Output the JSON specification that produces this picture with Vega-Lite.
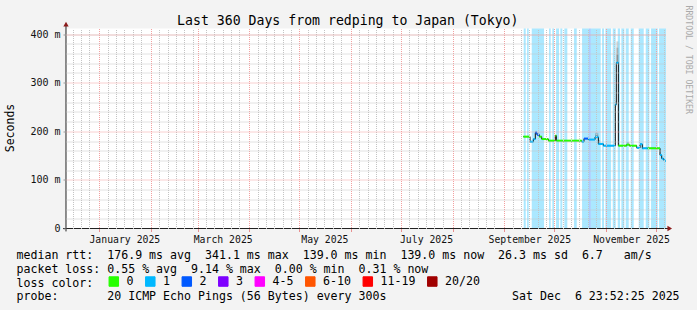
{
  "$schema": "https://vega.github.io/schema/vega-lite/v6.json",
  "width": 600,
  "height": 200,
  "autosize": {"type": "none"},
  "padding": {"left": 66, "top": 28.5, "right": 31, "bottom": 81.5},
  "background": "#f3f3f3",
  "config": {
    "view": {"stroke": null, "fill": "white"},
    "font": "DejaVu Sans Mono",
    "axis": {"labelFont": "DejaVu Sans Mono", "titleFont": "DejaVu Sans Mono", "titleFontWeight": "normal", "labelFontWeight": "normal"},
    "legend": {"labelFont": "DejaVu Sans Mono"}
  },
  "datasets": {
    "bands": [
      {"start": "2025-09-12T15:00", "end": "2025-09-13T20:00", "loss": "1"},
      {"start": "2025-09-14T15:00", "end": "2025-09-15T15:00", "loss": "1"},
      {"start": "2025-09-17T10:30", "end": "2025-09-24T19:40", "loss": "1"},
      {"start": "2025-09-27T19:40", "end": "2025-09-28T20:00", "loss": "1"},
      {"start": "2025-09-29T19:00", "end": "2025-09-30T19:40", "loss": "1"},
      {"start": "2025-10-02T00:30", "end": "2025-10-03T19:40", "loss": "1"},
      {"start": "2025-10-04T14:30", "end": "2025-10-05T19:00", "loss": "1"},
      {"start": "2025-10-07T00:00", "end": "2025-10-08T19:00", "loss": "1"},
      {"start": "2025-10-12T19:40", "end": "2025-10-14T10:30", "loss": "1"},
      {"start": "2025-10-17T15:00", "end": "2025-10-21T20:00", "loss": "1"},
      {"start": "2025-10-21T20:00", "end": "2025-10-22T20:00", "loss": "2"},
      {"start": "2025-10-22T20:00", "end": "2025-10-28T20:00", "loss": "1"},
      {"start": "2025-10-29T15:00", "end": "2025-10-30T19:40", "loss": "1"},
      {"start": "2025-10-31T14:30", "end": "2025-11-04T00:30", "loss": "1"},
      {"start": "2025-11-05T01:00", "end": "2025-11-06T20:00", "loss": "1"},
      {"start": "2025-11-08T01:00", "end": "2025-11-09T10:00", "loss": "1"},
      {"start": "2025-11-10T05:00", "end": "2025-11-12T00:00", "loss": "1"},
      {"start": "2025-11-12T20:00", "end": "2025-11-14T15:00", "loss": "1"},
      {"start": "2025-11-15T20:00", "end": "2025-11-17T15:00", "loss": "1"},
      {"start": "2025-11-20T15:00", "end": "2025-11-23T15:00", "loss": "1"},
      {"start": "2025-11-24T20:00", "end": "2025-11-27T00:00", "loss": "1"},
      {"start": "2025-11-28T00:30", "end": "2025-12-02T01:00", "loss": "1"},
      {"start": "2025-12-02T20:00", "end": "2025-12-06T23:52", "loss": "1"}
    ],
    "smoke": [
      {"start": "2025-09-19T14:00", "end": "2025-09-20T14:00", "lo": 193, "hi": 201},
      {"start": "2025-10-01T14:00", "end": "2025-10-02T05:00", "lo": 185, "hi": 193},
      {"start": "2025-10-25T10:00", "end": "2025-10-27T10:00", "lo": 186, "hi": 197},
      {"start": "2025-10-25T10:00", "end": "2025-10-27T10:00", "lo": 187, "hi": 193},
      {"start": "2025-10-27T10:00", "end": "2025-10-28T12:00", "lo": 174, "hi": 182},
      {"start": "2025-11-06T14:00", "end": "2025-11-07T05:00", "lo": 250, "hi": 262},
      {"start": "2025-11-07T05:00", "end": "2025-11-08T10:00", "lo": 341, "hi": 385},
      {"start": "2025-11-07T05:00", "end": "2025-11-08T10:00", "lo": 341, "hi": 372},
      {"start": "2025-11-07T05:00", "end": "2025-11-08T10:00", "lo": 341, "hi": 358},
      {"start": "2025-11-13T10:00", "end": "2025-11-15T00:00", "lo": 172.6, "hi": 178}
    ],
    "median": [
      {"t": "2025-09-12T10:00", "rtt": 189},
      {"t": "2025-09-16T10:00", "rtt": 178.6},
      {"t": "2025-09-18T10:00", "rtt": 184},
      {"t": "2025-09-19T14:00", "rtt": 197},
      {"t": "2025-09-20T14:00", "rtt": 193},
      {"t": "2025-09-22T00:00", "rtt": 189},
      {"t": "2025-09-23T10:00", "rtt": 184},
      {"t": "2025-09-27T10:00", "rtt": 180.7},
      {"t": "2025-10-01T14:00", "rtt": 191},
      {"t": "2025-10-02T05:00", "rtt": 180.7},
      {"t": "2025-10-17T10:00", "rtt": 178.6},
      {"t": "2025-10-18T19:00", "rtt": 185},
      {"t": "2025-10-21T10:00", "rtt": 183},
      {"t": "2025-10-25T10:00", "rtt": 188},
      {"t": "2025-10-27T10:00", "rtt": 174},
      {"t": "2025-10-30T10:00", "rtt": 170.4},
      {"t": "2025-11-06T14:00", "rtt": 255},
      {"t": "2025-11-07T05:00", "rtt": 341},
      {"t": "2025-11-08T10:00", "rtt": 170.4},
      {"t": "2025-11-13T10:00", "rtt": 172.6},
      {"t": "2025-11-15T00:00", "rtt": 170.4},
      {"t": "2025-11-19T10:00", "rtt": 166},
      {"t": "2025-11-21T10:00", "rtt": 173.4},
      {"t": "2025-11-22T19:00", "rtt": 165},
      {"t": "2025-12-03T10:00", "rtt": 151},
      {"t": "2025-12-04T10:00", "rtt": 144},
      {"t": "2025-12-05T10:00", "rtt": 141},
      {"t": "2025-12-06T10:00", "rtt": 139},
      {"t": "2025-12-06T23:50", "rtt": 139}
    ],
    "segments": [
      {"start": "2025-09-12T10:00", "end": "2025-09-16T10:00", "rtt": 189, "loss": "0"},
      {"start": "2025-09-16T10:00", "end": "2025-09-18T10:00", "rtt": 178.6, "loss": "1"},
      {"start": "2025-09-18T10:00", "end": "2025-09-19T14:00", "rtt": 184, "loss": "1"},
      {"start": "2025-09-19T14:00", "end": "2025-09-20T14:00", "rtt": 197, "loss": "2"},
      {"start": "2025-09-20T14:00", "end": "2025-09-22T00:00", "rtt": 193, "loss": "2"},
      {"start": "2025-09-22T00:00", "end": "2025-09-23T10:00", "rtt": 189, "loss": "0"},
      {"start": "2025-09-23T10:00", "end": "2025-09-27T10:00", "rtt": 184, "loss": "0"},
      {"start": "2025-09-27T10:00", "end": "2025-10-01T14:00", "rtt": 180.7, "loss": "0"},
      {"start": "2025-10-01T14:00", "end": "2025-10-02T05:00", "rtt": 191, "loss": "0"},
      {"start": "2025-10-02T05:00", "end": "2025-10-17T10:00", "rtt": 180.7, "loss": "0"},
      {"start": "2025-10-17T10:00", "end": "2025-10-18T19:00", "rtt": 178.6, "loss": "1"},
      {"start": "2025-10-18T19:00", "end": "2025-10-21T10:00", "rtt": 185, "loss": "2"},
      {"start": "2025-10-21T10:00", "end": "2025-10-25T10:00", "rtt": 183, "loss": "1"},
      {"start": "2025-10-25T10:00", "end": "2025-10-27T10:00", "rtt": 188, "loss": "1"},
      {"start": "2025-10-27T10:00", "end": "2025-10-30T10:00", "rtt": 174, "loss": "1"},
      {"start": "2025-10-30T10:00", "end": "2025-11-06T14:00", "rtt": 170.4, "loss": "1"},
      {"start": "2025-11-06T14:00", "end": "2025-11-07T05:00", "rtt": 255, "loss": "1"},
      {"start": "2025-11-07T05:00", "end": "2025-11-08T10:00", "rtt": 341, "loss": "1"},
      {"start": "2025-11-08T10:00", "end": "2025-11-13T10:00", "rtt": 170.4, "loss": "0"},
      {"start": "2025-11-13T10:00", "end": "2025-11-15T00:00", "rtt": 172.6, "loss": "0"},
      {"start": "2025-11-15T00:00", "end": "2025-11-19T10:00", "rtt": 170.4, "loss": "0"},
      {"start": "2025-11-19T10:00", "end": "2025-11-21T10:00", "rtt": 166, "loss": "1"},
      {"start": "2025-11-21T10:00", "end": "2025-11-22T19:00", "rtt": 173.4, "loss": "1"},
      {"start": "2025-11-22T19:00", "end": "2025-11-26T00:00", "rtt": 165, "loss": "1"},
      {"start": "2025-11-26T00:00", "end": "2025-12-03T10:00", "rtt": 165, "loss": "0"},
      {"start": "2025-12-03T10:00", "end": "2025-12-04T10:00", "rtt": 151, "loss": "1"},
      {"start": "2025-12-04T10:00", "end": "2025-12-05T10:00", "rtt": 144, "loss": "1"},
      {"start": "2025-12-05T10:00", "end": "2025-12-06T10:00", "rtt": 141, "loss": "1"},
      {"start": "2025-12-06T10:00", "end": "2025-12-06T23:50", "rtt": 139, "loss": "1"}
    ],
    "axislines": [
      {"t1": "2024-12-10T05:00", "t2": "2025-12-08T12:00", "v1": 0, "v2": 0},
      {"t1": "2024-12-11T23:52", "t2": "2024-12-11T23:52", "v1": -6, "v2": 418}
    ],
    "arrows": [
      {"t": "2024-12-11T23:52", "v": 420.5, "axis": "y"},
      {"t": "2025-12-09T06:00", "v": 0, "axis": "x"}
    ]
  },
  "resolve": {"axis": {"x": "independent", "y": "independent"}},
  "layer": [
    {
      "data": {"name": "bands"},
      "mark": {"type": "rect", "opacity": 0.33},
      "encoding": {
        "x": {
          "field": "start", "type": "temporal",
          "scale": {"domain": [{"year": 2024, "month": 12, "date": 11, "hours": 23, "minutes": 52, "seconds": 25}, {"year": 2025, "month": 12, "date": 6, "hours": 23, "minutes": 52, "seconds": 25}]},
          "axis": {
            "orient": "bottom", "labels": false, "ticks": false, "domain": false, "title": null, "zindex": 1,
            "grid": true, "gridColor": "#c4c4c4", "gridDash": [1, 1], "gridWidth": 1,
            "values": [
              {"year": 2024, "month": 12, "date": 16}, {"year": 2024, "month": 12, "date": 21}, {"year": 2024, "month": 12, "date": 26},
              {"year": 2025, "month": 1, "date": 6}, {"year": 2025, "month": 1, "date": 11}, {"year": 2025, "month": 1, "date": 16}, {"year": 2025, "month": 1, "date": 21}, {"year": 2025, "month": 1, "date": 26},
              {"year": 2025, "month": 2, "date": 6}, {"year": 2025, "month": 2, "date": 11}, {"year": 2025, "month": 2, "date": 16}, {"year": 2025, "month": 2, "date": 21}, {"year": 2025, "month": 2, "date": 26},
              {"year": 2025, "month": 3, "date": 6}, {"year": 2025, "month": 3, "date": 11}, {"year": 2025, "month": 3, "date": 16}, {"year": 2025, "month": 3, "date": 21}, {"year": 2025, "month": 3, "date": 26},
              {"year": 2025, "month": 4, "date": 6}, {"year": 2025, "month": 4, "date": 11}, {"year": 2025, "month": 4, "date": 16}, {"year": 2025, "month": 4, "date": 21}, {"year": 2025, "month": 4, "date": 26},
              {"year": 2025, "month": 5, "date": 6}, {"year": 2025, "month": 5, "date": 11}, {"year": 2025, "month": 5, "date": 16}, {"year": 2025, "month": 5, "date": 21}, {"year": 2025, "month": 5, "date": 26},
              {"year": 2025, "month": 6, "date": 6}, {"year": 2025, "month": 6, "date": 11}, {"year": 2025, "month": 6, "date": 16}, {"year": 2025, "month": 6, "date": 21}, {"year": 2025, "month": 6, "date": 26},
              {"year": 2025, "month": 7, "date": 6}, {"year": 2025, "month": 7, "date": 11}, {"year": 2025, "month": 7, "date": 16}, {"year": 2025, "month": 7, "date": 21}, {"year": 2025, "month": 7, "date": 26},
              {"year": 2025, "month": 8, "date": 6}, {"year": 2025, "month": 8, "date": 11}, {"year": 2025, "month": 8, "date": 16}, {"year": 2025, "month": 8, "date": 21}, {"year": 2025, "month": 8, "date": 26},
              {"year": 2025, "month": 9, "date": 6}, {"year": 2025, "month": 9, "date": 11}, {"year": 2025, "month": 9, "date": 16}, {"year": 2025, "month": 9, "date": 21}, {"year": 2025, "month": 9, "date": 26},
              {"year": 2025, "month": 10, "date": 6}, {"year": 2025, "month": 10, "date": 11}, {"year": 2025, "month": 10, "date": 16}, {"year": 2025, "month": 10, "date": 21}, {"year": 2025, "month": 10, "date": 26},
              {"year": 2025, "month": 11, "date": 6}, {"year": 2025, "month": 11, "date": 11}, {"year": 2025, "month": 11, "date": 16}, {"year": 2025, "month": 11, "date": 21}, {"year": 2025, "month": 11, "date": 26},
              {"year": 2025, "month": 12, "date": 6}
            ]
          }
        },
        "x2": {"field": "end"},
        "color": {
          "field": "loss", "type": "nominal",
          "scale": {"domain": ["0", "1", "2", "3", "4-5", "6-10", "11-19", "20/20"], "range": ["#26ff00", "#00b8ff", "#0059ff", "#7e00ff", "#ff00ff", "#ff5500", "#ff0000", "#a00000"]},
          "legend": {
            "orient": "none", "legendX": 42, "legendY": 247, "direction": "horizontal", "title": null,
            "symbolType": "square", "symbolSize": 90, "symbolStrokeWidth": 1, "symbolStrokeColor": "#000000", "symbolOpacity": 1,
            "labelFontSize": 11.6, "labelColor": "#000000", "labelOffset": 7, "columnPadding": 9.5, "padding": 0,
            "encode": {"symbols": {"update": {"fill": {"scale": "color", "field": "value"}, "stroke": {"value": "#000000"}, "strokeWidth": {"value": 1}, "opacity": {"value": 1}, "fillOpacity": {"value": 1}, "strokeOpacity": {"value": 1}}}}
          }
        }
      }
    },
    {
      "data": {"name": "smoke"},
      "mark": {"type": "rect", "color": "#000000", "opacity": 0.16},
      "encoding": {
        "x": {
          "field": "start", "type": "temporal",
          "scale": {"domain": [{"year": 2024, "month": 12, "date": 11, "hours": 23, "minutes": 52, "seconds": 25}, {"year": 2025, "month": 12, "date": 6, "hours": 23, "minutes": 52, "seconds": 25}]},
          "axis": {
            "orient": "bottom", "labels": false, "domain": false, "title": null, "zindex": 1,
            "ticks": true, "tickSize": 3, "tickColor": "#e89090",
            "grid": true, "gridColor": "#f2a0a0", "gridDash": [1, 1], "gridWidth": 1,
            "values": [
              {"year": 2025, "month": 1, "date": 1}, {"year": 2025, "month": 2, "date": 1}, {"year": 2025, "month": 3, "date": 1}, {"year": 2025, "month": 4, "date": 1},
              {"year": 2025, "month": 5, "date": 1}, {"year": 2025, "month": 6, "date": 1}, {"year": 2025, "month": 7, "date": 1}, {"year": 2025, "month": 8, "date": 1},
              {"year": 2025, "month": 9, "date": 1}, {"year": 2025, "month": 10, "date": 1}, {"year": 2025, "month": 11, "date": 1}, {"year": 2025, "month": 12, "date": 1}
            ]
          }
        },
        "x2": {"field": "end"},
        "y": {
          "field": "lo", "type": "quantitative",
          "scale": {"domain": [0, 411.5], "nice": false},
          "axis": {
            "orient": "left", "labels": false, "ticks": false, "domain": false, "title": null, "zindex": 1,
            "grid": true, "gridColor": "#c4c4c4", "gridDash": [1, 1], "gridWidth": 1,
            "values": [20, 40, 60, 80, 120, 140, 160, 180, 220, 240, 260, 280, 320, 340, 360, 380, 400]
          }
        },
        "y2": {"field": "hi"}
      }
    },
    {
      "data": {"name": "median"},
      "mark": {"type": "line", "color": "#111111", "strokeWidth": 1, "interpolate": "step-after"},
      "encoding": {
        "x": {
          "field": "t", "type": "temporal",
          "scale": {"domain": [{"year": 2024, "month": 12, "date": 11, "hours": 23, "minutes": 52, "seconds": 25}, {"year": 2025, "month": 12, "date": 6, "hours": 23, "minutes": 52, "seconds": 25}]},
          "axis": {
            "orient": "bottom", "grid": false, "ticks": false, "tickSize": 0, "domain": false,
            "values": [{"year": 2025, "month": 1, "date": 16}, {"year": 2025, "month": 3, "date": 16}, {"year": 2025, "month": 5, "date": 16}, {"year": 2025, "month": 7, "date": 16}, {"year": 2025, "month": 9, "date": 16}, {"year": 2025, "month": 11, "date": 16}],
            "format": "%B %Y", "labelFontSize": 9.8, "labelColor": "#111111", "labelPadding": 5.5,
            "labelFlush": false, "labelOverlap": false, "labelAngle": 0,
            "title": [
              "median\u00a0rtt:\u00a0\u00a0176.9\u00a0ms\u00a0avg\u00a0\u00a0341.1\u00a0ms\u00a0max\u00a0\u00a0139.0\u00a0ms\u00a0min\u00a0\u00a0139.0\u00a0ms\u00a0now\u00a0\u00a026.3\u00a0ms\u00a0sd\u00a0\u00a06.7\u00a0\u00a0\u00a0am/s",
              "packet\u00a0loss:\u00a00.55\u00a0%\u00a0avg\u00a0\u00a09.14\u00a0%\u00a0max\u00a0\u00a00.00\u00a0%\u00a0min\u00a0\u00a00.31\u00a0%\u00a0now",
              "loss\u00a0color:",
              "probe:\u00a0\u00a0\u00a0\u00a0\u00a0\u00a0\u00a020\u00a0ICMP\u00a0Echo\u00a0Pings\u00a0(56\u00a0Bytes)\u00a0every\u00a0300s\u00a0\u00a0\u00a0\u00a0\u00a0\u00a0\u00a0\u00a0\u00a0\u00a0\u00a0\u00a0\u00a0\u00a0\u00a0\u00a0\u00a0\u00a0Sat\u00a0Dec\u00a0\u00a06\u00a023:52:25\u00a02025"
            ],
            "titleX": -50, "titleY": 29.8, "titleAlign": "left", "titleAnchor": "start", "titleBaseline": "alphabetic",
            "titleFontSize": 11.6, "titleLineHeight": 13.9, "titleColor": "#000000"
          }
        },
        "y": {
          "field": "rtt", "type": "quantitative",
          "scale": {"domain": [0, 411.5], "nice": false},
          "axis": {
            "orient": "left", "values": [0, 100, 200, 300, 400],
            "labelExpr": "datum.value == 0 ? '0\u00a0\u00a0' : datum.value + '\u00a0m'",
            "labelFontSize": 10, "labelColor": "#111111", "labelPadding": 3,
            "ticks": true, "tickSize": 3, "tickColor": "#999999", "domain": false, "zindex": 1,
            "grid": true, "gridColor": "#f2a0a0", "gridDash": [1, 1], "gridWidth": 1,
            "gridOpacity": {"condition": {"test": "datum.value === 0", "value": 0}, "value": 1},
            "title": "Seconds", "titleX": -56, "titleY": 99, "titleAngle": 270, "titleAlign": "center", "titleBaseline": "middle",
            "titleFontSize": 11.5, "titleColor": "#000000"
          }
        }
      }
    },
    {
      "data": {"name": "segments"},
      "mark": {"type": "rule", "strokeWidth": 2},
      "encoding": {
        "x": {
          "field": "start", "type": "temporal",
          "scale": {"domain": [{"year": 2024, "month": 12, "date": 11, "hours": 23, "minutes": 52, "seconds": 25}, {"year": 2025, "month": 12, "date": 6, "hours": 23, "minutes": 52, "seconds": 25}]},
          "axis": {
            "orient": "top", "labels": false, "ticks": false, "domain": false, "grid": false,
            "title": "Last 360 Days from redping to Japan (Tokyo)",
            "titleX": 281.3, "titleY": -4.2, "titleAlign": "center", "titleBaseline": "alphabetic",
            "titleFontSize": 13.2, "titleColor": "#000000"
          }
        },
        "x2": {"field": "end"},
        "y": {
          "field": "rtt", "type": "quantitative",
          "scale": {"domain": [0, 411.5], "nice": false},
          "axis": {
            "orient": "right", "labels": false, "ticks": false, "domain": false, "grid": false,
            "title": "RRDTOOL / TOBI OETIKER", "titleAngle": 90, "titleX": 21.7, "titleY": -23.5,
            "titleAlign": "left", "titleBaseline": "middle", "titleFontSize": 8.2, "titleColor": "#aaaaaa"
          }
        },
        "color": {
          "field": "loss", "type": "nominal",
          "scale": {"domain": ["0", "1", "2", "3", "4-5", "6-10", "11-19", "20/20"], "range": ["#26ff00", "#00b8ff", "#0059ff", "#7e00ff", "#ff00ff", "#ff5500", "#ff0000", "#a00000"]},
          "legend": {
            "orient": "none", "legendX": 42, "legendY": 247, "direction": "horizontal", "title": null,
            "symbolType": "square", "symbolSize": 90, "symbolStrokeWidth": 1, "symbolStrokeColor": "#000000", "symbolOpacity": 1,
            "labelFontSize": 11.6, "labelColor": "#000000", "labelOffset": 7, "columnPadding": 9.5, "padding": 0,
            "encode": {"symbols": {"update": {"fill": {"scale": "color", "field": "value"}, "stroke": {"value": "#000000"}, "strokeWidth": {"value": 1}, "opacity": {"value": 1}, "fillOpacity": {"value": 1}, "strokeOpacity": {"value": 1}}}}
          }
        }
      }
    },
    {
      "data": {"name": "axislines"},
      "mark": {"type": "rule", "color": "#222222", "strokeWidth": 1},
      "encoding": {
        "x": {"field": "t1", "type": "temporal", "axis": null, "scale": {"domain": [{"year": 2024, "month": 12, "date": 11, "hours": 23, "minutes": 52, "seconds": 25}, {"year": 2025, "month": 12, "date": 6, "hours": 23, "minutes": 52, "seconds": 25}]}},
        "x2": {"field": "t2"},
        "y": {"field": "v1", "type": "quantitative", "axis": null, "scale": {"domain": [0, 411.5], "nice": false}},
        "y2": {"field": "v2"}
      }
    },
    {
      "data": {"name": "arrows"},
      "mark": {"type": "point", "filled": true, "color": "#8b1a1a", "opacity": 1, "size": 28},
      "encoding": {
        "x": {"field": "t", "type": "temporal", "axis": null, "scale": {"domain": [{"year": 2024, "month": 12, "date": 11, "hours": 23, "minutes": 52, "seconds": 25}, {"year": 2025, "month": 12, "date": 6, "hours": 23, "minutes": 52, "seconds": 25}]}},
        "y": {"field": "v", "type": "quantitative", "axis": null, "scale": {"domain": [0, 411.5], "nice": false}},
        "shape": {"field": "axis", "type": "nominal", "scale": {"domain": ["x", "y"], "range": ["triangle-right", "triangle-up"]}, "legend": null}
      }
    }
  ]
}
